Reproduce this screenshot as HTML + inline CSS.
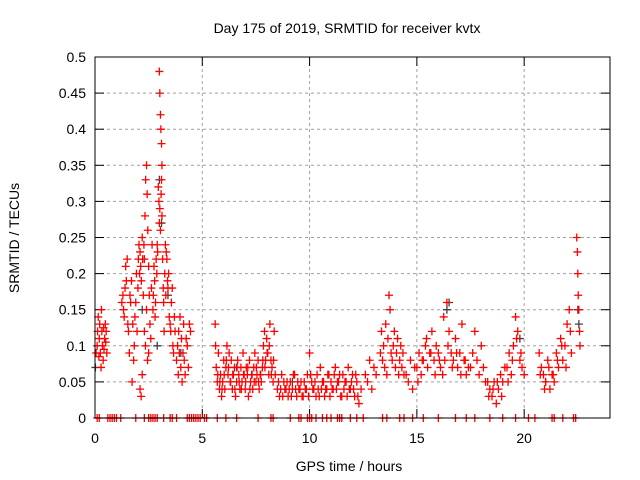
<!DOCTYPE html>
<html><head><meta charset="utf-8"><style>
html,body{margin:0;padding:0;background:#fff;}
svg{display:block;font-family:"Liberation Sans",sans-serif;}
</style></head><body>
<svg id="chart" width="640" height="480" viewBox="0 0 640 480">
<text x="347" y="33" font-size="14" text-anchor="middle" fill="#000">Day 175 of 2019, SRMTID for receiver kvtx</text>
<text x="349" y="471" font-size="14" text-anchor="middle" fill="#000">GPS time / hours</text>
<text transform="translate(19,238) rotate(-90)" font-size="14" text-anchor="middle" fill="#000">SRMTID / TECUs</text>
<g id="grid"></g>
<g id="ticks"></g>
<g id="gray"></g>
<g id="marks"></g>
<rect x="95" y="57" width="515" height="361" fill="none" stroke="#000" stroke-width="1"/>
</svg>
<script>
const xTicks = [0, 5, 10, 15, 20];
const yTicks = [0, 0.05, 0.1, 0.15, 0.2, 0.25, 0.3, 0.35, 0.4, 0.45, 0.5];
const yTickLabels = ["0","0.05","0.1","0.15","0.2","0.25","0.3","0.35","0.4","0.45","0.5"];
const hours = [
0.05,0.1,0.12,0.15,0.18,0.2,0.22,0.25,0.28,0.3,0.32,0.35,0.38,0.4,0.42,0.45,0.48,0.5,0.52,0.55,
1.25,1.3,1.33,1.36,1.4,1.43,1.46,1.5,1.53,1.56,1.6,1.63,1.66,1.7,1.73,1.76,1.8,1.83,1.86,1.9,1.93,1.96,2.0,
2.02,2.05,2.08,2.1,2.13,2.16,2.2,2.22,2.25,2.28,2.3,2.33,2.36,2.4,2.43,2.46,2.5,2.53,2.56,2.6,2.63,2.66,2.7,2.1,2.2,2.3,2.4,2.5,2.15,2.35,2.45,
2.72,2.75,2.78,2.8,2.82,2.85,2.88,2.9,2.92,2.95,2.98,3.0,3.02,3.05,3.08,3.1,3.12,3.15,3.18,3.2,3.22,3.25,3.28,3.3,3.0,3.02,3.05,3.07,3.1,3.12,
3.32,3.35,3.38,3.4,3.43,3.46,3.5,3.53,3.56,3.6,3.63,3.66,3.7,3.73,
3.8,3.85,3.88,3.9,3.93,3.96,4.0,4.03,4.06,4.1,4.13,4.16,4.2,4.25,4.3,4.35,4.4,4.45,
5.6,5.65,5.7,5.75,5.8,5.85,5.9,5.95,6.0,6.05,6.1,6.15,6.2,6.25,6.3,6.35,6.4,6.45,6.5,6.55,6.6,6.65,6.7,6.75,6.8,6.85,6.9,6.95,7.0,7.05,7.1,7.15,7.2,7.25,7.3,7.35,7.4,7.45,7.5,7.55,7.6,7.65,7.7,7.75,7.8,7.85,7.9,7.95,8.0,8.05,8.1,8.15,8.2,8.25,8.3,8.35,8.4,
5.62,5.72,5.82,5.92,6.02,6.12,6.22,6.32,6.42,6.52,6.62,6.72,6.82,6.92,7.02,7.12,7.22,7.32,7.42,7.52,7.62,7.72,7.82,7.92,8.02,8.12,8.22,8.32,
8.5,8.6,8.7,8.8,8.9,9.0,9.1,9.2,9.3,9.4,9.5,9.6,9.7,9.8,9.9,10.0,10.1,10.2,10.3,10.4,10.5,10.6,10.7,10.8,10.9,11.0,11.1,11.2,11.3,11.4,11.5,11.6,11.7,11.8,11.9,12.0,12.1,12.2,12.3,12.4,
8.55,8.65,8.75,8.85,8.95,9.05,9.15,9.25,9.35,9.45,9.55,9.65,9.75,9.85,9.95,10.05,10.15,10.25,10.35,10.45,10.55,10.65,10.75,10.85,10.95,11.05,11.15,11.25,11.35,11.45,11.55,11.65,11.75,11.85,11.95,12.05,12.15,12.25,
12.6,12.7,12.8,12.9,13.0,13.1,
13.3,13.35,13.4,13.45,13.5,13.55,13.6,13.65,13.7,13.75,13.8,13.85,13.9,13.95,14.0,14.05,14.1,14.15,14.2,14.25,14.3,14.35,14.4,
14.5,14.6,14.7,14.8,14.9,
15.0,15.1,15.2,15.3,15.4,15.5,15.6,15.7,15.8,15.9,16.0,16.1,16.2,16.3,16.4,16.5,16.6,16.7,16.8,16.9,17.0,17.1,17.2,17.3,17.4,15.05,15.25,15.45,15.65,15.85,16.05,16.25,16.45,16.65,16.85,17.05,17.25,
17.5,17.6,17.7,17.8,17.9,18.0,18.1,18.2,
18.3,18.4,18.5,18.6,18.7,18.8,18.9,19.0,19.1,18.35,18.55,18.75,18.95,
19.2,19.3,19.4,19.5,19.6,19.7,19.8,19.9,20.0,19.25,19.45,19.65,19.85,
20.7,20.8,20.9,21.0,21.1,21.2,21.3,21.4,21.5,21.6,21.7,21.8,21.9,22.0,22.1,22.2,20.75,20.95,21.15,21.35,21.55,21.75,21.95,22.15,
22.45,22.48,22.5,22.52,22.55,22.58,22.6
];
const tec = [
.09,.10,.12,.14,.085,.11,.13,.09,.07,.15,.12,.10,.08,.125,.095,.11,.13,.105,.12,.09,
.16,.17,.15,.14,.18,.21,.19,.22,.13,.12,.09,.17,.16,.19,.05,.13,.08,.10,.14,.16,.20,.12,.18,
.22,.24,.20,.23,.21,.19,.25,.22,.17,.24,.22,.28,.33,.35,.31,.26,.21,.17,.13,.11,.18,.24,.15,.04,.06,.12,.15,.09,.03,.10,.08,
.17,.21,.19,.14,.16,.22,.20,.24,.23,.32,.30,.27,.29,.26,.31,.33,.28,.22,.18,.16,.12,.20,.24,.17,.48,.45,.42,.40,.38,.35,
.23,.22,.19,.18,.20,.14,.13,.12,.16,.18,.10,.09,.14,.12,
.08,.10,.06,.12,.09,.14,.07,.11,.05,.09,.13,.08,.06,.11,.10,.07,.13,.12,
.13,.07,.05,.09,.04,.06,.03,.05,.08,.04,.07,.10,.06,.09,.05,.08,.04,.06,.07,.03,.05,.08,.06,.04,.07,.05,.09,.06,.04,.07,.06,.03,.08,.05,.06,.04,.07,.09,.05,.06,.08,.04,.06,.05,.07,.10,.12,.08,.11,.09,.06,.13,.08,.07,.05,.12,.06,
.10,.06,.05,.04,.06,.08,.07,.05,.06,.04,.07,.05,.04,.06,.05,.07,.04,.06,.05,.07,.05,.06,.08,.07,.09,.10,.06,.08,
.04,.03,.06,.05,.04,.03,.05,.04,.06,.03,.04,.05,.03,.04,.06,.09,.05,.04,.03,.04,.07,.05,.03,.04,.06,.05,.04,.07,.05,.06,.03,.04,.05,.07,.04,.06,.03,.05,.02,.04,
.05,.04,.03,.04,.05,.04,.03,.06,.04,.05,.04,.03,.05,.04,.03,.06,.04,.05,.06,.03,.04,.05,.04,.06,.03,.04,.06,.04,.05,.03,.06,.05,.03,.04,.05,.04,.06,.03,
.06,.05,.08,.04,.07,.06,
.09,.12,.08,.10,.07,.13,.06,.11,.17,.15,.09,.08,.10,.12,.07,.09,.11,.06,.08,.10,.07,.09,.06,
.06,.05,.08,.04,.07,
.07,.09,.06,.08,.10,.07,.09,.12,.08,.10,.09,.07,.06,.08,.16,.12,.09,.08,.11,.07,.09,.13,.08,.06,.07,.05,.08,.11,.09,.06,.08,.14,.10,.07,.09,.06,.08,
.07,.09,.12,.08,.06,.10,.07,.05,
.05,.04,.03,.05,.02,.04,.06,.05,.07,.03,.04,.05,.03,
.07,.09,.06,.10,.14,.12,.08,.07,.06,.05,.08,.11,.09,
.09,.07,.06,.05,.08,.04,.06,.05,.09,.07,.11,.08,.10,.13,.15,.09,.06,.04,.07,.06,.08,.10,.07,.12,
.25,.23,.20,.17,.15,.12,.10
];
const zeroHours = [0.1,0.2,0.6,0.7,0.8,0.9,1.0,1.2,1.9,2.3,2.5,2.6,2.7,2.8,2.9,3.2,3.5,3.6,3.8,4.3,4.4,4.5,4.6,4.7,4.8,4.9,5.1,5.2,5.7,6.1,6.6,7.6,8.2,8.3,9.1,9.5,9.6,9.9,10.0,10.1,10.3,10.6,10.8,11.0,11.3,11.4,11.5,11.9,12.2,12.5,13.4,13.6,14.2,14.4,14.8,15.3,16.0,16.8,17.3,17.7,18.4,19.0,19.6,20.2,20.5,21.3,21.4,21.8,22.3,22.4];
const grayHours = [0.02,2.2,2.9,3.0,3.1,3.4,4.0,6.6,9.2,16.4,16.5,19.8,21.0,22.5,22.55];
const grayTec = [0.07,0.15,0.1,0.33,0.27,0.17,0.09,0.07,0.05,0.15,0.16,0.11,0.05,0.15,0.13];

const L=95,R=610,T=57,B=418;
const xs = h => L + h/24*(R-L);
const ys = v => B - v/0.5*(B-T);
const NS="http://www.w3.org/2000/svg";
function mk(tag, attrs, parent){const e=document.createElementNS(NS,tag);for(const k in attrs)e.setAttribute(k,attrs[k]);parent.appendChild(e);return e;}
const grid=document.getElementById('grid'), ticks=document.getElementById('ticks');
yTicks.forEach((v,i)=>{
  const y=ys(v);
  if(i>0&&i<yTicks.length-1){const g=mk('line',{x1:L,x2:R,y1:y,y2:y,stroke:'#a0a0a0','stroke-dasharray':'3,3'},grid);
  
  }
  mk('line',{x1:L,x2:L+9,y1:y,y2:y,stroke:'#000'},ticks);
  mk('line',{x1:R-9,x2:R,y1:y,y2:y,stroke:'#000'},ticks);
  const t=mk('text',{x:L-9,y:y+5,'font-size':14,'text-anchor':'end'},ticks);
  t.textContent=yTickLabels[i];
  
  
});
xTicks.forEach(h=>{
  const x=xs(h);
  if(h>0){const g=mk('line',{x1:x,x2:x,y1:T,y2:B,stroke:'#a0a0a0','stroke-dasharray':'3,3'},grid);
  
  }
  mk('line',{x1:x,x2:x,y1:B,y2:B-9,stroke:'#000'},ticks);
  mk('line',{x1:x,x2:x,y1:T,y2:T+9,stroke:'#000'},ticks);
  const t=mk('text',{x:x,y:B+25,'font-size':14,'text-anchor':'middle'},ticks);
  t.textContent=String(h);
  
  
});
function plus(x,y,color,parent){
  const p=mk('path',{d:`M${x-4},${y}h8M${x},${y-4}v8`,stroke:color,'stroke-width':1.3,fill:'none'},parent);
  
  
}
const gray=document.getElementById('gray'), marks=document.getElementById('marks');
for(let i=0;i<Math.min(grayHours.length,grayTec.length);i++) plus(xs(grayHours[i]),ys(grayTec[i]),'#404040',gray);
for(let i=0;i<Math.min(hours.length,tec.length);i++) plus(xs(hours[i]),ys(tec[i]),'#ff0000',marks);
zeroHours.forEach(h=>plus(xs(h),ys(0),'#ff0000',marks));
</script>
</body></html>
